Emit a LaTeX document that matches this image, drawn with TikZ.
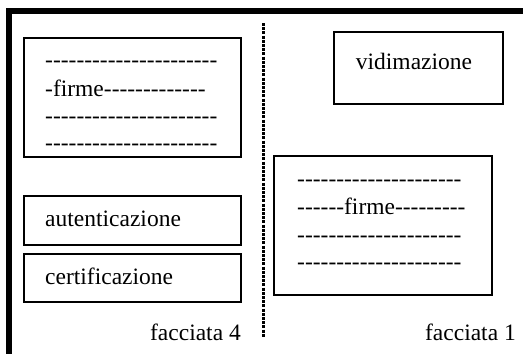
\documentclass[tikz,border=0pt]{standalone}
\usepackage{fontspec}
\setmainfont{Liberation Serif}
\newcount\hycnt
\newcommand\hys[1]{\hycnt=#1\relax\loop\ifnum\hycnt>0 \mbox{-}\advance\hycnt by -1\relax\repeat}
\begin{document}
\begin{tikzpicture}[x=1pt,y=-1pt,
  box/.style={draw,line width=1.4pt,inner sep=0pt},
  txt/.style={inner sep=0pt,font=\fontsize{23.5}{28}\selectfont},
  border/.style={line width=6pt},
  sep/.style={line width=3.4pt,dash pattern=on 3pt off 1.2pt}]
\useasboundingbox (0,0) rectangle (523,354);
% thick border (top and left)
\coordinate (tl) at (9,11);
\coordinate (tr) at (523,11);
\coordinate (bl) at (9,354);
\draw[border] (tr) -- (tl) -- (bl);
% dotted separator
\coordinate (st) at (263.5,23);
\coordinate (sb) at (263.5,337);
\draw[sep] (st) -- (sb);
% boxes
\node[box,minimum width=217pt,minimum height=119pt] (firme4) at (132.5,97.5) {};
\node[box,minimum width=217pt,minimum height=49pt] (aut) at (132.5,220.5) {};
\node[box,minimum width=217pt,minimum height=48pt] (cert) at (132.5,278) {};
\node[box,minimum width=169pt,minimum height=72pt] (vid) at (418.5,68) {};
\node[box,minimum width=218pt,minimum height=139pt] (firme1) at (383,225.5) {};
% texts left
\node[txt,anchor=base west] (l1) at (45,67) {\hys{22}};
\node[txt,anchor=base west] (l2) at (45,96) {\hys{1}firme\hys{13}};
\node[txt,anchor=base west] (l3) at (45,123) {\hys{22}};
\node[txt,anchor=base west] (l4) at (45,150) {\hys{22}};
\node[txt,anchor=base west] (ta) at (45,226) {autenticazione};
\node[txt,anchor=base west] (tc) at (45,284) {certificazione};
\node[txt,anchor=base east] (f4) at (241,340) {facciata 4};
% texts right
\node[txt,anchor=base] (tv) at (414,69) {vidimazione};
\node[txt,anchor=base west] (r1) at (297,186) {\hys{21}};
\node[txt,anchor=base west] (r2) at (297,214) {\hys{6}firme\hys{9}};
\node[txt,anchor=base west] (r3) at (297,242) {\hys{21}};
\node[txt,anchor=base west] (r4) at (297,269) {\hys{21}};
\node[txt,anchor=base east] (f1) at (516,340) {facciata 1};
\end{tikzpicture}
\end{document}
